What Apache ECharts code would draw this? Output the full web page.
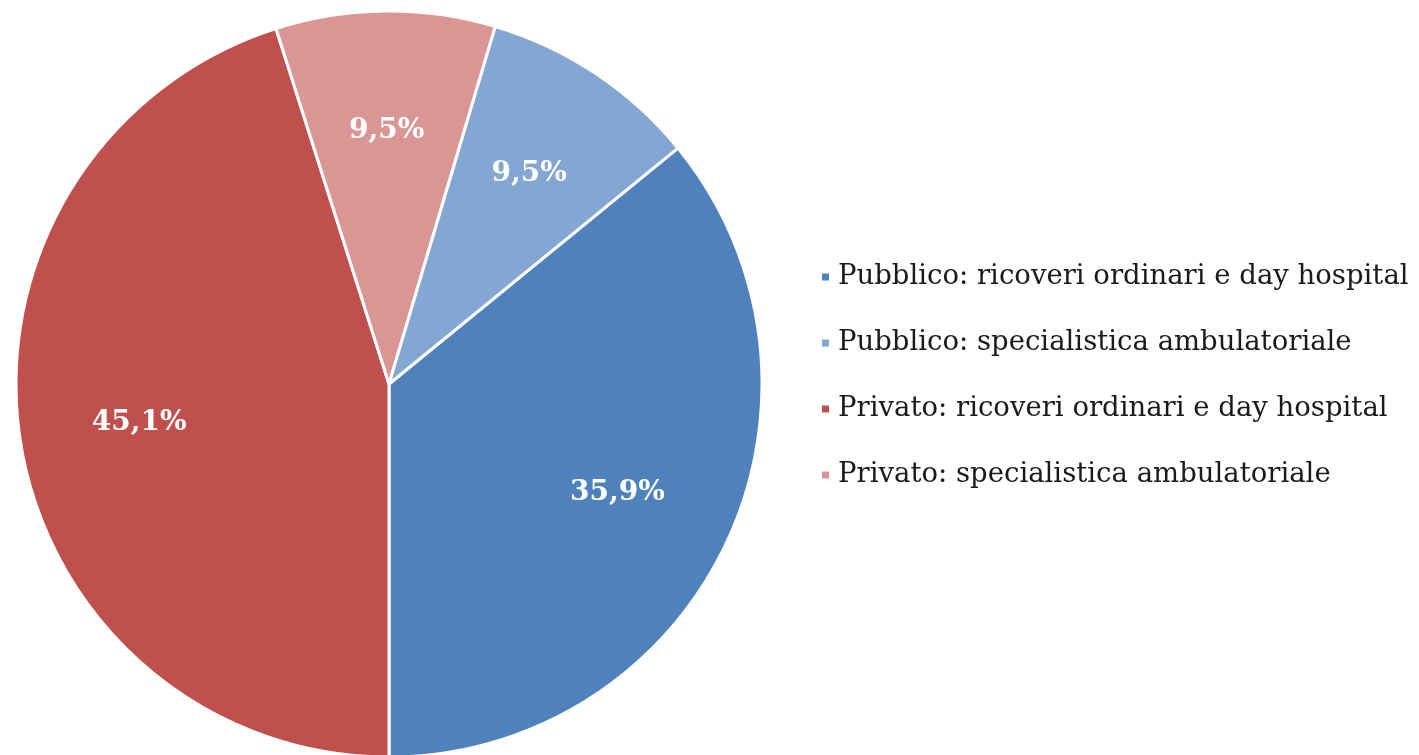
<!DOCTYPE html>
<html>
<head>
<meta charset="utf-8">
<script src="https://cdn.jsdelivr.net/npm/echarts@6/dist/echarts.min.js"></script>
<style>
html,body{margin:0;padding:0;background:#fff;}
#chart{width:1419px;height:755px;}
</style>
</head>
<body>
<div id="chart"></div>
<script>
// Data (clockwise order of slices as drawn)
const categories = [
  'Pubblico: ricoveri ordinari e day hospital',
  'Privato: ricoveri ordinari e day hospital',
  'Privato: specialistica ambulatoriale',
  'Pubblico: specialistica ambulatoriale'
];
const values = [35.9, 45.1, 9.5, 9.5];
const colors = ['#4F81BD', '#C0504D', '#D99694', '#84A6D2'];
// Legend order
const legendOrder = [
  'Pubblico: ricoveri ordinari e day hospital',
  'Pubblico: specialistica ambulatoriale',
  'Privato: ricoveri ordinari e day hospital',
  'Privato: specialistica ambulatoriale'
];

const total = values.reduce((a, b) => a + b, 0);
// first slice ends exactly at the bottom (6 o'clock)
const startAngle = 90 - (180 - values[0] / total * 360);

const data = categories.map((c, i) => ({ name: c, value: values[i], itemStyle: { color: colors[i] } }));
const fmt = p => p.value.toFixed(1).replace('.', ',') + '%';

const R = 373;
const chart = echarts.init(document.getElementById('chart'));
chart.setOption({
  animation: false,
  legend: {
    orient: 'vertical',
    left: 815,
    top: 258,
    data: legendOrder,
    icon: 'rect',
    itemWidth: 9,
    itemHeight: 9,
    itemGap: 38,
    textStyle: { fontFamily: 'DejaVu Serif', fontSize: 27.5, color: '#1a1a1a', padding: [0, 0, 0, 3] }
  },
  series: [
    {
      type: 'pie',
      center: [389, 384],
      radius: [0, R],
      startAngle: startAngle,
      clockwise: true,
      data: data,
      itemStyle: { borderColor: '#fff', borderWidth: 3 },
      label: { show: false },
      labelLine: { show: false },
      silent: true
    },
    {
      type: 'pie',
      center: [389, 384],
      radius: [R * 0.34, R],
      startAngle: startAngle,
      clockwise: true,
      data: data.map(d => ({ name: d.name, value: d.value, itemStyle: { color: 'rgba(0,0,0,0)' } })),
      itemStyle: { borderWidth: 0 },
      label: {
        show: true,
        position: 'inside',
        formatter: fmt,
        color: '#fff',
        fontFamily: 'DejaVu Serif',
        fontWeight: 'bold',
        fontSize: 28
      },
      labelLine: { show: false },
      legendHoverLink: false,
      silent: true,
      tooltip: { show: false }
    }
  ]
});
</script>
</body>
</html>
